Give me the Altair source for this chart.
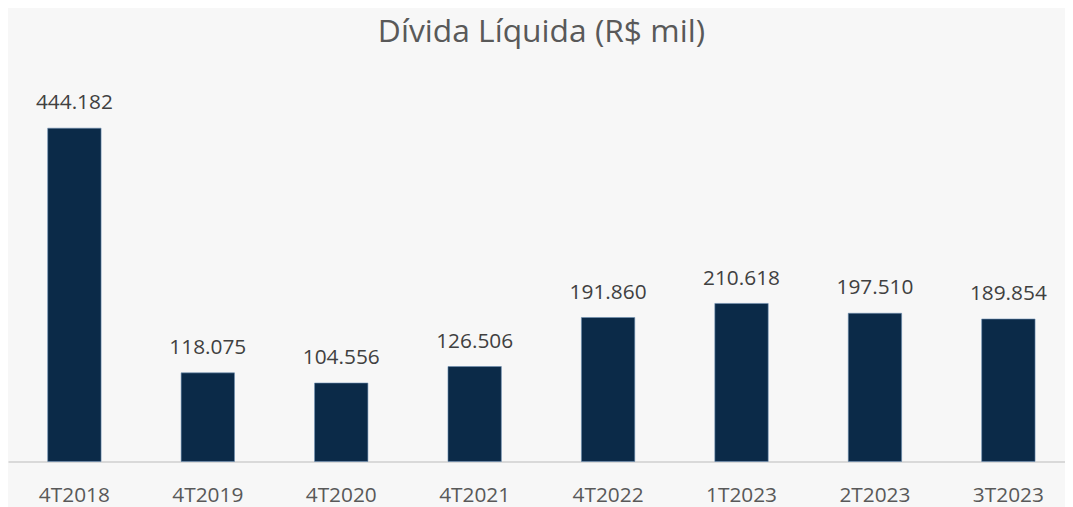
import altair as alt
import pandas as pd

periods = ["4T2018", "4T2019", "4T2020", "4T2021", "4T2022", "1T2023", "2T2023", "3T2023"]
values = [444182, 118075, 104556, 126506, 191860, 210618, 197510, 189854]
labels = [f"{v:,}".replace(",", ".") for v in values]

df = pd.DataFrame({"periodo": periods, "valor": values, "rotulo": labels})

FONT = "Open Sans"

x = alt.X(
    "periodo:N",
    sort=periods,
    scale=alt.Scale(paddingInner=0.6, paddingOuter=0.261, align=0.57),
    axis=alt.Axis(
        title=None,
        labelAngle=0,
        ticks=False,
        labelPadding=40,
        labelBaseline="alphabetic",
        labelFont=FONT,
        labelFontSize=21,
        labelColor="#595959",
        domainColor="#D9D9D9",
        domainWidth=2,
        grid=False,
    ),
)
y = alt.Y("valor:Q", scale=alt.Scale(domain=[0, 500000]), axis=None)

bars = alt.Chart(df).mark_bar(color="#0B2A48", stroke="#6E8FB3", strokeWidth=0.6).encode(x=x, y=y)
text = alt.Chart(df).mark_text(
    font=FONT, fontSize=21, color="#404040", baseline="alphabetic", dy=-19
).encode(x=x, y=y, text="rotulo:N")

chart = (
    alt.layer(bars, text)
    .properties(
        width=1065,
        height=378,
        background="#F7F7F7",
        autosize=alt.AutoSizeParams(type="none"),
        padding={"left": 0, "top": 77, "right": 0, "bottom": 44},
        title=alt.TitleParams(
            "Dívida Líquida (R$ mil)",
            font=FONT,
            fontSize=32,
            fontWeight="normal",
            color="#595959",
            baseline="alphabetic",
            offset=13,
            anchor="middle",
            dx=5,
        ),
    )
    .configure_view(stroke=None)
)

chart.save("out.html", embed_options={"renderer": "svg", "actions": False})
